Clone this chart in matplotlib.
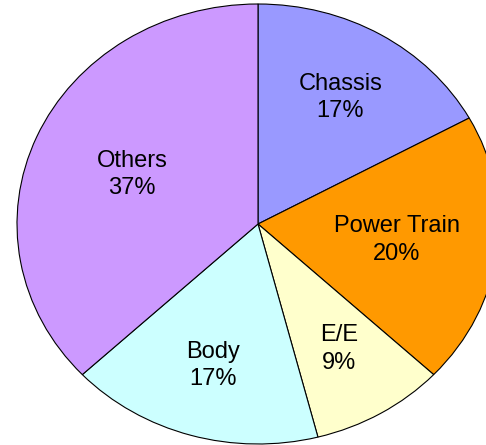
import numpy as np
import matplotlib
matplotlib.use("Agg")
from matplotlib import pyplot as plt

plt.rcParams['font.family'] = ['Liberation Sans', 'DejaVu Sans']

# clockwise from 12 o'clock
categories = ["Chassis", "Power Train", "E/E", "Body", "Others"]
shares = [17, 20, 9, 17, 37]
colors = ["#9999FF", "#FF9900", "#FFFFCC", "#CCFFFF", "#CC99FF"]
label_radius = [0.67, 0.58, 0.66, 0.67, 0.57]

fig = plt.figure(figsize=(4.86, 4.45), dpi=100)
ax = fig.add_axes([0, 0, 1, 1])

wedges, _ = ax.pie(shares, colors=colors, startangle=90, counterclock=False,
                   wedgeprops=dict(edgecolor="black", linewidth=0.8))

for w, name, pct, r in zip(wedges, categories, shares, label_radius):
    mid = np.deg2rad((w.theta1 + w.theta2) / 2)
    ax.text(r*np.cos(mid), r*np.sin(mid), f"{name}\n{pct}%", ha="center", va="center",
            fontsize=17, linespacing=1.3, color="black")

# pie is stretched a bit sideways in the original, and clipped on the right
ax.set_aspect('auto')
ax.set_xlim(-258/241, (486-258)/241)
ax.set_ylim(-(445-224)/220, 224/220)
ax.axis('off')

fig.savefig("out.png", dpi=100)
